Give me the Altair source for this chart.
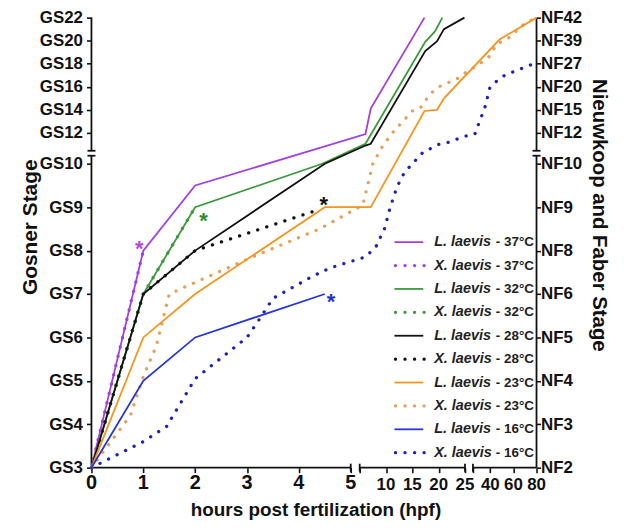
import altair as alt
import pandas as pd

# ---------------- data: hours post fertilization (h) and Gosner stage (s) ----------------
SERIES = ["L37", "X37", "L32", "X32", "L28", "X28", "L23", "X23", "L16", "X16"]
GENUS = ["L. laevis", "X. laevis"] * 5
TEMPS = ["- 37°C", "- 37°C", "- 32°C", "- 32°C", "- 28°C", "- 28°C",
         "- 23°C", "- 23°C", "- 16°C", "- 16°C"]
COLORS = ["#a23fe0", "#a23fe0", "#3a9a3a", "#3a9a3a", "#111111", "#111111",
          "#f7941d", "#eb9d5a", "#2436d8", "#1f22b8"]

L37_H = [0, 1, 2, 6.1, 7.1, 17.3]
L37_S = [3, 8, 9.5, 11.9, 14.1, 22]
X37_H = [0, 1]
X37_S = [3, 8]
L32_H = [0, 1, 2, 4.45, 6.1, 17.45, 19.3, 20.7]
L32_S = [3, 7, 9, 10, 11.05, 19.9, 20.8, 22]
X32_H = [0, 1, 2]
X32_S = [3, 7, 9]
L28_H = [0, 1, 2, 4.5, 6.1, 7.1, 17.45, 19.7, 21, 24.9]
L28_S = [3, 7, 8, 10, 10.9, 11.05, 19.1, 19.95, 21, 22]
X28_H = [0, 1, 2, 4.4]
X28_S = [3, 7, 8, 8.95]
L23_H = [0, 1, 2, 4.5, 7.1, 17.3, 19.7, 21.0, 48, 80]
L23_S = [3, 6, 7, 9, 9, 13.9, 14, 15, 20.1, 22]
X23_H = [0, 0.75, 1, 1.25, 1.5, 3, 4.4, 5.6, 6.5, 7.5, 9, 11.2, 15, 16.5, 18.4,
         20.3, 23.5, 25, 31, 38.8, 45.6, 56.8, 69.7, 80]
X23_S = [3, 4.2, 5.1, 5.8, 7, 7.8, 8.5, 9.05, 9.5, 10, 10.6, 12, 13.9, 14.15, 15.4,
         16.05, 16.7, 17.2, 18, 18.6, 19.7, 20.3, 21.5, 22]
L16_H = [0, 1, 2, 4.5]
L16_S = [3, 5, 6, 7]
X16_H = [0, 1, 1.45, 2, 3, 3.2, 3.5, 4.25, 4.6, 6, 8, 9.7, 10.8, 12.1, 13.5, 15, 17,
         20, 22, 24.9, 26.7, 30, 35.3, 39.6, 45.6, 52.5, 60, 70, 80]
X16_S = [3, 3.6, 3.95, 5.05, 6, 6.35, 6.9, 7.4, 7.6, 7.85, 8.07, 8.5, 9, 9.47, 9.8, 10,
         10.3, 11, 11.2, 11.7, 11.9, 12.8, 14.2, 15.9, 16.5, 17, 17.3, 17.7, 18.1]

# significance asterisks
AST_H = [0.92, 2.16, 4.48, 4.62]
AST_S = [8.17, 8.81, 9.18, 6.96]
AST_COL = ["#b548e0", "#2e8b2e", "#111111", "#2233cc"]

# axis ticks
X_TICK_H = [0, 1, 2, 3, 4, 5, 5, 10, 15, 20, 25, 25, 40, 60, 80]
X_TICK_SEG = [1, 1, 1, 1, 1, 1, 2, 2, 2, 2, 2, 3, 3, 3, 3]
X_TICK_LAB = ["0", "1", "2", "3", "4", "5", "", "10", "15", "20", "25", "", "40", "60", "80"]
GS_TICKS = [3, 4, 5, 6, 7, 8, 9, 10, 12, 14, 16, 18, 20, 22]
NF_OF_GS = {3: 2, 4: 3, 5: 4, 6: 5, 7: 6, 8: 8, 9: 9, 10: 10, 12: 12, 14: 15,
            16: 20, 18: 27, 20: 39, 22: 42}

SERIES_H = [L37_H, X37_H, L32_H, X32_H, L28_H, X28_H, L23_H, X23_H, L16_H, X16_H]
SERIES_S = [L37_S, X37_S, L32_S, X32_S, L28_S, X28_S, L23_S, X23_S, L16_S, X16_S]

# ---------------- broken-axis layout (display units = pixels) ----------------
W, H = 448, 453
X1, X2_0, X2, X3_0, X3 = 52.2, 270, 5.3, 384, 64 / 55
Y1, Y2_0, Y2 = 43.7, 337, 11.6
Y_BRK_LO, Y_BRK_HI = 314, 319


def xseg(h, seg):
    if seg == 1:
        return h * X1
    if seg == 2:
        return X2_0 + (h - 5) * X2
    return X3_0 + (h - 25) * X3


def ymap(s):
    return (s - 3) * Y1 if s <= 10 else Y2_0 + (s - 12) * Y2


XEXPR = (f"datum.h <= 5 ? datum.h*{X1} : (datum.h <= 25 ? {X2_0} + (datum.h-5)*{X2} "
         f": {X3_0} + (datum.h-25)*64/55)")
XSEG_EXPR = (f"datum.seg == 1 ? datum.h*{X1} : (datum.seg == 2 ? {X2_0} + (datum.h-5)*{X2} "
             f": {X3_0} + (datum.h-25)*64/55)")
YEXPR = f"datum.s <= 10 ? (datum.s-3)*{Y1} : {Y2_0} + (datum.s-12)*{Y2}"

rows = []
for name, g, hs, ss in zip(SERIES, GENUS, SERIES_H, SERIES_S):
    for i, (h, s) in enumerate(zip(hs, ss)):
        rows.append({"series": name, "sp": g[0], "h": h, "s": s, "i": i})
df = pd.DataFrame(rows)

x_vals = [round(xseg(h, g), 3) for h, g in zip(X_TICK_H, X_TICK_SEG)]
y_vals = [round(ymap(s), 3) for s in GS_TICKS]
stage_expr = (f"(datum.value <= 310 ? round(datum.value/{Y1} + 3) : "
              f"round((datum.value-{Y2_0})/{Y2} + 12))")
nf_arr = [NF_OF_GS.get(k, 0) for k in range(23)]
gs_label_expr = f"'GS' + {stage_expr}"
nf_label_expr = f"'NF' + {nf_arr}[{stage_expr}]"

FONT = "Liberation Sans"
INK = "#111111"

xs = alt.Scale(domain=[0, W], nice=False, zero=False)
ys = alt.Scale(domain=[0, H], nice=False, zero=False)
cscale = alt.Scale(domain=SERIES, range=COLORS)

x_axis = alt.Axis(values=x_vals, labels=False, domain=False, grid=False,
                  tickSize=5, tickWidth=1.6, tickColor=INK, title=None)
left_axis = alt.Axis(values=y_vals, labelExpr=gs_label_expr, domain=False, grid=False,
                     tickSize=5, tickWidth=1.6, tickColor=INK, labelColor=INK,
                     labelFont=FONT, labelFontWeight="bold", labelFontSize=17,
                     labelPadding=4, labelOverlap=False, labelFlush=False, title=None)
right_axis = alt.Axis(values=y_vals, labelExpr=nf_label_expr, orient="right", domain=False,
                      grid=False, tickSize=4, tickWidth=1.6, tickColor=INK, labelColor=INK,
                      labelFont=FONT, labelFontWeight="bold", labelFontSize=17,
                      labelPadding=0, labelOverlap=False, labelFlush=False, title=None)

base = alt.Chart(df).transform_calculate(X=XEXPR, Y=YEXPR)

solid = base.transform_filter("datum.sp == 'L'").mark_line(strokeWidth=1.8).encode(
    x=alt.X("X:Q", scale=xs, axis=x_axis),
    y=alt.Y("Y:Q", scale=ys, axis=left_axis),
    color=alt.Color("series:N", scale=cscale, legend=None),
    detail="series:N",
    order="i:Q",
)
dotted = base.transform_filter("datum.sp == 'X'").mark_line(
    strokeWidth=3.3, strokeDash=[0.1, 9.5], strokeCap="round").encode(
    x=alt.X("X:Q", scale=xs, axis=None),
    y=alt.Y("Y:Q", scale=ys, axis=right_axis),
    color=alt.Color("series:N", scale=cscale, legend=None),
    detail="series:N",
    order="i:Q",
)

# x tick labels (two sizes: first segment larger, as in the reference)
xt_df = pd.DataFrame({"h": X_TICK_H, "seg": X_TICK_SEG, "lab": X_TICK_LAB})
x_labels = alt.Chart(xt_df).transform_filter("datum.lab != ''").transform_calculate(
    X=XSEG_EXPR, fs="datum.seg == 1 ? 20 : 17", ly="datum.seg == 1 ? 474 : 475"
).mark_text(font=FONT, fontWeight="bold", baseline="alphabetic", align="center",
            color=INK).encode(
    x=alt.X("X:Q", scale=xs, axis=None),
    y=alt.Y("ly:Q", scale=None),
    size=alt.Size("fs:Q", scale=None),
    text="lab:N",
)

# axis lines with breaks
seg_rows = []
bx = [(xseg(0, 1), xseg(5, 1)), (xseg(5, 2), xseg(25, 2)), (xseg(25, 3), xseg(80, 3))]
for a, b in bx:
    seg_rows.append({"x": a, "x2": b, "y": 0, "y2": 0})
for c in [xseg(5, 1), xseg(5, 2), xseg(25, 2), xseg(25, 3)]:
    seg_rows.append({"x": c, "x2": c, "y": -4, "y2": 4})
for xa in [0, W]:
    seg_rows.append({"x": xa, "x2": xa, "y": 0, "y2": Y_BRK_LO})
    seg_rows.append({"x": xa, "x2": xa, "y": Y_BRK_HI, "y2": H})
    for yb in [Y_BRK_LO, Y_BRK_HI]:
        seg_rows.append({"x": xa - 4, "x2": xa + 4, "y": yb, "y2": yb})
axis_df = pd.DataFrame(seg_rows)
axis_lines = alt.Chart(axis_df).mark_rule(strokeWidth=1.8, color=INK).encode(
    x=alt.X("x:Q", scale=xs, axis=None), x2="x2:Q",
    y=alt.Y("y:Q", scale=ys, axis=None), y2="y2:Q",
)

# asterisks
ast_df = pd.DataFrame({"h": AST_H, "s": AST_S, "col": AST_COL})
stars = alt.Chart(ast_df).transform_calculate(X=XEXPR, Y=YEXPR).mark_text(
    text="*", font=FONT, fontSize=22, fontWeight="bold", dy=6).encode(
    x=alt.X("X:Q", scale=xs, axis=None),
    y=alt.Y("Y:Q", scale=ys, axis=None),
    color=alt.Color("col:N", scale=None),
)

# legend
leg_df = pd.DataFrame({"genus": GENUS, "temp": TEMPS, "col": COLORS,
                       "sp": [g[0] for g in GENUS], "row": list(range(len(SERIES)))})
leg = alt.Chart(leg_df).transform_calculate(ly="226 + datum.row*23.55")
leg_solid = leg.transform_filter("datum.sp == 'L'").mark_rule(strokeWidth=1.8).encode(
    x=alt.value(305), x2=alt.value(334), y=alt.Y("ly:Q", scale=None),
    color=alt.Color("col:N", scale=None))
leg_dot = leg.transform_filter("datum.sp == 'X'").mark_rule(
    strokeWidth=3.3, strokeDash=[0.1, 9.5], strokeCap="round").encode(
    x=alt.value(306), x2=alt.value(336), y=alt.Y("ly:Q", scale=None),
    color=alt.Color("col:N", scale=None))
leg_genus = leg.mark_text(align="left", baseline="middle", font=FONT, fontSize=14.5,
                          fontWeight="bold", fontStyle="italic", color="#222222").encode(
    x=alt.value(345), y=alt.Y("ly:Q", scale=None), text="genus:N")
leg_temp = leg.mark_text(align="left", baseline="middle", font=FONT, fontSize=13.5,
                         fontWeight="bold", color="#222222").encode(
    x=alt.value(407), y=alt.Y("ly:Q", scale=None), text="temp:N")

# axis titles
def title_layer(txt, x, y, angle, size, baseline="middle"):
    return alt.Chart(pd.DataFrame({"t": [txt]})).mark_text(
        font=FONT, fontSize=size, fontWeight="bold", angle=angle, align="center",
        baseline=baseline, color=INK).encode(
        text="t:N", x=alt.value(x), y=alt.value(y))

t_left = title_layer("Gosner Stage", -61, 211, 270, 21)
t_right = title_layer("Nieuwkoop and Faber Stage", 511, 199, 90, 20.5)
t_bottom = title_layer("hours post fertilization (hpf)", 226, 502, 0, 19, "alphabetic")

chart = alt.layer(
    axis_lines, dotted, solid, x_labels, stars, leg_solid, leg_dot, leg_genus, leg_temp,
    t_left, t_right, t_bottom,
).resolve_axis(x="independent", y="independent").properties(
    width=W, height=H,
    padding={"left": 84, "top": 8, "right": 80, "bottom": 53},
    autosize=alt.AutoSizeParams(type="none"),
).configure_view(stroke=None)

chart.save("out.html", embed_options={"renderer": "svg", "actions": False})
